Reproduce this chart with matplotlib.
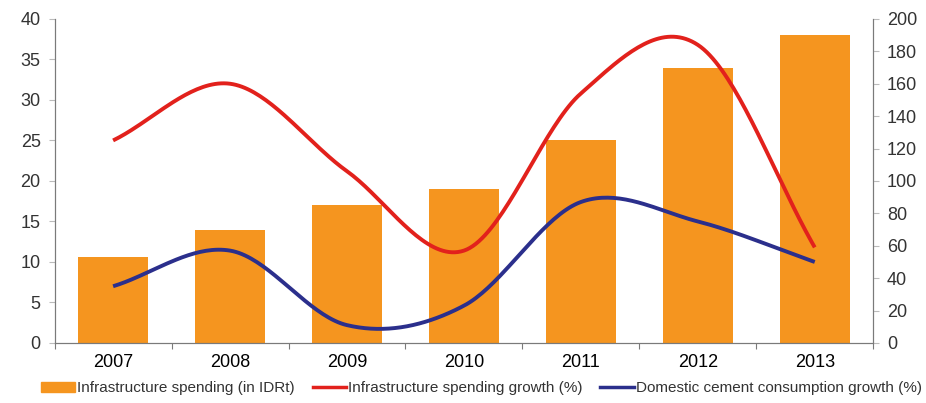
import numpy as np
import matplotlib
matplotlib.use("Agg")
import matplotlib.pyplot as plt
from matplotlib.patches import Patch
from matplotlib.lines import Line2D

plt.rcParams['font.family'] = ['Liberation Sans', 'DejaVu Sans']

years = ['2007', '2008', '2009', '2010', '2011', '2012', '2013']
spending = [10.6, 14.0, 17.0, 19.0, 25.0, 34.0, 38.0]          # left axis, IDRt
spending_growth = [125, 160, 106, 57, 154, 184, 59]            # right axis, %
cement_growth = [35, 57, 11, 23, 87, 75, 50]                   # right axis, %

bar_color = '#F5951F'
red = '#E2211C'
blue = '#2B2F8C'


def smooth(y, n=40):
    # catmull-rom curve through the points, like excel's smoothed line
    y = np.asarray(y, dtype=float)
    x = np.arange(len(y), dtype=float)
    px = np.concatenate([[2 * x[0] - x[1]], x, [2 * x[-1] - x[-2]]])
    py = np.concatenate([[2 * y[0] - y[1]], y, [2 * y[-1] - y[-2]]])
    xs, ys = [], []
    t = np.linspace(0, 1, n)
    for i in range(1, len(px) - 2):
        for p, out in ((px, xs), (py, ys)):
            p0, p1, p2, p3 = p[i - 1], p[i], p[i + 1], p[i + 2]
            out.append(0.5 * (2 * p1 + (-p0 + p2) * t
                              + (2 * p0 - 5 * p1 + 4 * p2 - p3) * t ** 2
                              + (-p0 + 3 * p1 - 3 * p2 + p3) * t ** 3))
    return np.concatenate(xs), np.concatenate(ys)


fig = plt.figure(figsize=(9.26, 4.03), dpi=100)
ax = fig.add_axes([0.059, 0.149, 0.884, 0.804])
ax2 = ax.twinx()

x = np.arange(len(years))
ax.bar(x, spending, width=0.6, color=bar_color, zorder=1)

sx, sy = smooth(spending_growth)
ax2.plot(sx, sy, color=red, lw=2.8, solid_capstyle='butt')
cx, cy = smooth(cement_growth)
ax2.plot(cx, cy, color=blue, lw=2.8, solid_capstyle='butt')

ax.set_xlim(-0.5, 6.5)
ax.set_ylim(0, 40)
ax2.set_ylim(0, 200)
ax.set_yticks(np.arange(0, 41, 5))
ax2.set_yticks(np.arange(0, 201, 20))

ax.set_xticks(np.arange(-0.5, 7, 1))
ax.set_xticklabels([])
ax.set_xticks(x, minor=True)
ax.set_xticklabels(years, minor=True)

grey = '#7a7a7a'
for a in (ax, ax2):
    a.spines['top'].set_visible(False)
    for s in ('left', 'right', 'bottom'):
        a.spines[s].set_color(grey)
    a.tick_params(colors='#333333', labelsize=13)
ax.tick_params(axis='y', length=4, color='#bbbbbb', pad=6)
ax2.tick_params(axis='y', length=4, color='#bbbbbb', pad=6)
ax.tick_params(axis='x', which='minor', length=0, pad=8, labelsize=13)
ax.tick_params(axis='x', which='major', length=4, color=grey)

handles = [Patch(color=bar_color),
           Line2D([], [], color=red, lw=2.5),
           Line2D([], [], color=blue, lw=2.5)]
labels = ['Infrastructure spending (in IDRt)',
          'Infrastructure spending growth (%)',
          'Domestic cement consumption growth (%)']
fig.legend(handles, labels, loc='lower center', ncol=3, frameon=False,
           bbox_to_anchor=(0.52, -0.015), fontsize=11, handlelength=2.2,
           handletextpad=0.1, columnspacing=1.2, labelcolor='#333333')

fig.savefig('out.png', dpi=100)
